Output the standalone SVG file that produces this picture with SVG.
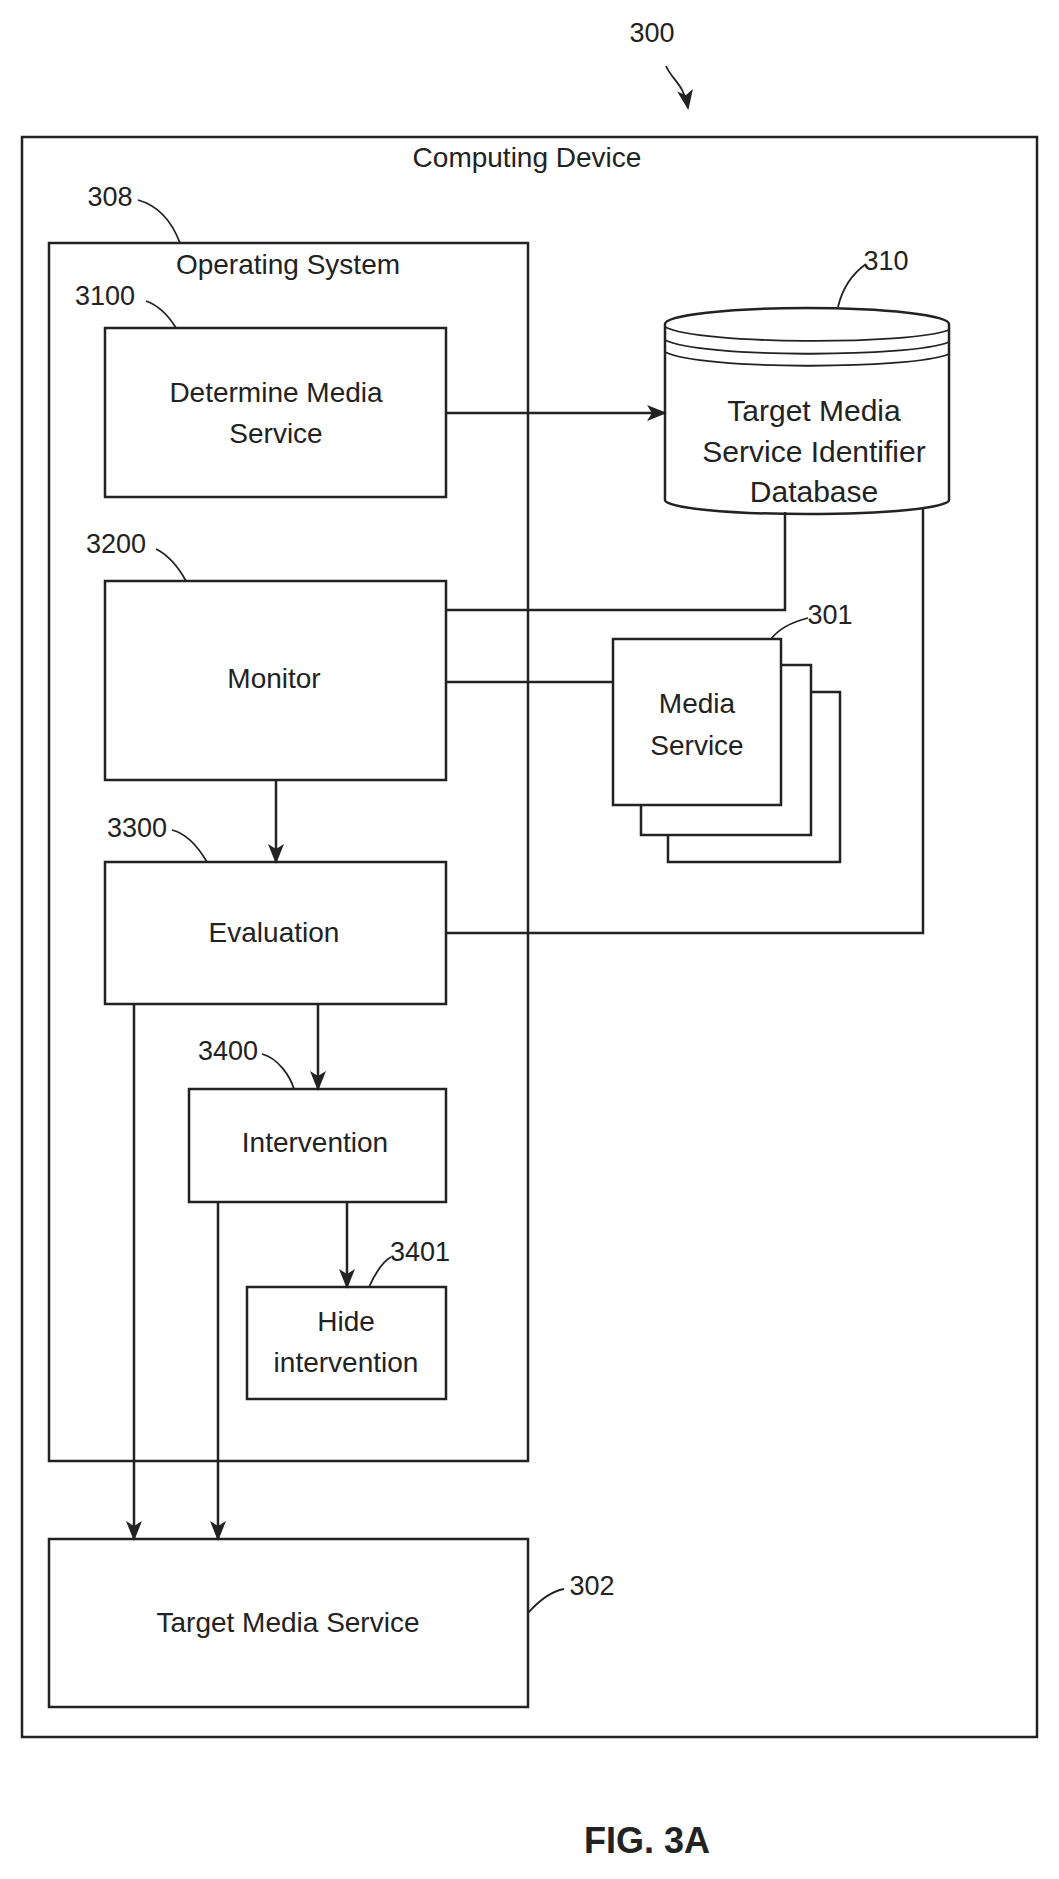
<svg xmlns="http://www.w3.org/2000/svg" width="1059" height="1879" viewBox="0 0 1059 1879">
<style>
.b{fill:none;stroke:#222;stroke-width:2.5}
.w{fill:#fff;stroke:#222;stroke-width:2.5}
.l{fill:none;stroke:#222;stroke-width:2.5}
.ld{fill:none;stroke:#222;stroke-width:1.8}
text{font-family:"Liberation Sans",Arial,sans-serif;font-size:28px;fill:#222;text-anchor:middle}
.n{font-size:27px}
.db{font-size:30px}
</style>
<defs>
<marker id="A" markerWidth="20" markerHeight="20" refX="18" refY="10" orient="auto" markerUnits="userSpaceOnUse" viewBox="0 0 20 20"><path d="M0,2L20,10L0,18L5,10z" fill="#222"/></marker></defs>
<g id="ref300"><text class="n" x="652" y="42">300</text><path class="ld" d="M666,66 C672,80 684,84 688,108" marker-end="url(#A)"/></g>
<g id="computing"><rect class="b" x="22" y="137" width="1015" height="1600"/><text x="527" y="167">Computing Device</text></g>
<g id="os"><rect class="b" x="49" y="243" width="479" height="1218"/><text x="288" y="274">Operating System</text><text class="n" x="110" y="206">308</text><path class="ld" d="M138,200 C160,206 172,222 180,243"/></g>
<g id="n3100"><rect class="w" x="105" y="328" width="341" height="169"/><text x="276" y="402">Determine Media</text><text x="276" y="443">Service</text><text class="n" x="105" y="305">3100</text><path class="ld" d="M146,301 C160,306 170,318 176,328"/></g>
<g id="n3200"><rect class="w" x="105" y="581" width="341" height="199"/><text x="274" y="688">Monitor</text><text class="n" x="116" y="553">3200</text><path class="ld" d="M156,549 C170,556 180,570 186,581"/></g>
<g id="n3300"><rect class="w" x="105" y="862" width="341" height="142"/><text x="274" y="942">Evaluation</text><text class="n" x="137" y="837">3300</text><path class="ld" d="M172,830 C188,834 200,850 207,862"/></g>
<g id="n3400"><rect class="w" x="189" y="1089" width="257" height="113"/><text x="315" y="1152">Intervention</text><text class="n" x="228" y="1060">3400</text><path class="ld" d="M262,1054 C278,1058 290,1076 294,1089"/></g>
<g id="n3401"><rect class="w" x="247" y="1287" width="199" height="112"/><text x="346" y="1331">Hide</text><text x="346" y="1372">intervention</text><text class="n" x="420" y="1261">3401</text><path class="ld" d="M391,1257 C382,1262 374,1276 369,1287"/></g>
<g id="n302"><rect class="w" x="49" y="1539" width="479" height="168"/><text x="288" y="1632">Target Media Service</text><text class="n" x="592" y="1595">302</text><path class="ld" d="M564,1589 C548,1592 536,1604 528,1613"/></g>
<g id="n310"><path class="w" d="M665,324 A142,16 0 0 1 949,324 L949,500 A142,14 0 0 1 665,500 Z"/><path class="ld" d="M665,327 C700,345 910,345 949,330 M665,340 C700,358 910,358 949,342 M665,352 C700,370 910,370 949,354"/><text class="db" x="814" y="421">Target Media</text><text class="db" x="814" y="462">Service Identifier</text><text class="db" x="814" y="502">Database</text><text class="n" x="886" y="270">310</text><path class="ld" d="M866,264 C852,274 842,290 838,307"/></g>
<g id="n301"><rect class="w" x="668" y="692" width="172" height="170"/><rect class="w" x="641" y="665" width="170" height="170"/><rect class="w" x="613" y="639" width="168" height="166"/><text x="697" y="713">Media</text><text x="697" y="755">Service</text><text class="n" x="830" y="624">301</text><path class="ld" d="M808,618 C792,622 778,630 771,639"/></g>
<g id="connectors">
<path class="l" d="M446,413 H665" marker-end="url(#A)"/>
<path class="l" d="M446,610 H785 V512"/>
<path class="l" d="M446,682 H613"/>
<path class="l" d="M446,933 H923 V507"/>
<path class="l" d="M276,780 V862" marker-end="url(#A)"/>
<path class="l" d="M318,1004 V1089" marker-end="url(#A)"/>
<path class="l" d="M347,1202 V1287" marker-end="url(#A)"/>
<path class="l" d="M134,1004 V1539" marker-end="url(#A)"/>
<path class="l" d="M218,1202 V1539" marker-end="url(#A)"/>
</g>
<text x="647" y="1853" style="font-size:36px;font-weight:bold">FIG. 3A</text>
</svg>
